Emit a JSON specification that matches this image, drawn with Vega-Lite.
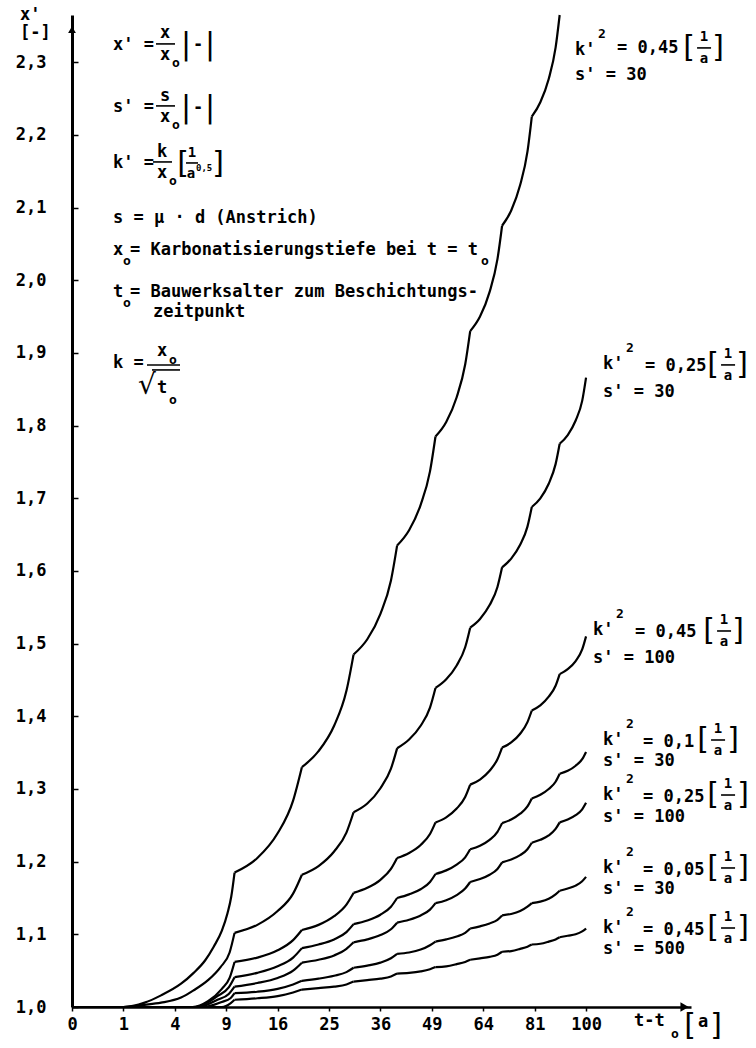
{
  "$schema": "https://vega.github.io/schema/vega-lite/v6.json",
  "width": 619,
  "height": 992,
  "autosize": {"type": "none"},
  "padding": {"left": 72, "top": 15, "right": 65, "bottom": 41},
  "background": "white",
  "config": {"view": {"stroke": null}, "font": "DejaVu Sans Mono"},
  "datasets": {
    "curves": [
      {"c":"A","s":0,"t":0,"v":1},{"c":"A","s":0,"t":1,"v":1},{"c":"A","s":0,"t":2,"v":1.006},{"c":"A","s":0,"t":3,"v":1.016},{"c":"A","s":0,"t":4.5,"v":1.032},{"c":"A","s":0,"t":5.6,"v":1.047},{"c":"A","s":0,"t":6.7,"v":1.064},{"c":"A","s":0,"t":7.6,"v":1.083},{"c":"A","s":0,"t":8.5,"v":1.105},{"c":"A","s":0,"t":9.15,"v":1.129},{"c":"A","s":0,"t":9.6,"v":1.152},{"c":"A","s":0,"t":10,"v":1.185},
      {"c":"A","s":1,"t":10,"v":1.185},{"c":"A","s":1,"t":13,"v":1.205},{"c":"A","s":1,"t":16,"v":1.239},{"c":"A","s":1,"t":18.5,"v":1.284},{"c":"A","s":1,"t":20,"v":1.33},
      {"c":"A","s":2,"t":20,"v":1.33},{"c":"A","s":2,"t":23,"v":1.352},{"c":"A","s":2,"t":26,"v":1.387},{"c":"A","s":2,"t":28.5,"v":1.435},{"c":"A","s":2,"t":30,"v":1.485},
      {"c":"A","s":3,"t":30,"v":1.485},{"c":"A","s":3,"t":33,"v":1.506},{"c":"A","s":3,"t":36,"v":1.541},{"c":"A","s":3,"t":38.5,"v":1.587},{"c":"A","s":3,"t":40,"v":1.635},
      {"c":"A","s":4,"t":40,"v":1.635},{"c":"A","s":4,"t":43,"v":1.656},{"c":"A","s":4,"t":46,"v":1.691},{"c":"A","s":4,"t":48.5,"v":1.737},{"c":"A","s":4,"t":50,"v":1.785},
      {"c":"A","s":5,"t":50,"v":1.785},{"c":"A","s":5,"t":53,"v":1.805},{"c":"A","s":5,"t":56,"v":1.839},{"c":"A","s":5,"t":58.5,"v":1.884},{"c":"A","s":5,"t":60,"v":1.93},
      {"c":"A","s":6,"t":60,"v":1.93},{"c":"A","s":6,"t":63,"v":1.95},{"c":"A","s":6,"t":66,"v":1.984},{"c":"A","s":6,"t":68.5,"v":2.029},{"c":"A","s":6,"t":70,"v":2.075},
      {"c":"A","s":7,"t":70,"v":2.075},{"c":"A","s":7,"t":73,"v":2.096},{"c":"A","s":7,"t":76,"v":2.131},{"c":"A","s":7,"t":78.5,"v":2.177},{"c":"A","s":7,"t":80,"v":2.225},
      {"c":"A","s":8,"t":80,"v":2.225},{"c":"A","s":8,"t":83,"v":2.245},{"c":"A","s":8,"t":86,"v":2.277},{"c":"A","s":8,"t":88.5,"v":2.32},{"c":"A","s":8,"t":90,"v":2.365},

      {"c":"B","s":0,"t":0,"v":1},{"c":"B","s":0,"t":1,"v":1},{"c":"B","s":0,"t":2,"v":1.003},{"c":"B","s":0,"t":3,"v":1.006},{"c":"B","s":0,"t":4.5,"v":1.013},{"c":"B","s":0,"t":5.6,"v":1.023},{"c":"B","s":0,"t":7,"v":1.037},{"c":"B","s":0,"t":8.35,"v":1.055},{"c":"B","s":0,"t":9.4,"v":1.075},{"c":"B","s":0,"t":10,"v":1.102},
      {"c":"B","s":1,"t":10,"v":1.102},{"c":"B","s":1,"t":13,"v":1.113},{"c":"B","s":1,"t":16,"v":1.132},{"c":"B","s":1,"t":18.5,"v":1.156},{"c":"B","s":1,"t":20,"v":1.182},
      {"c":"B","s":2,"t":20,"v":1.182},{"c":"B","s":2,"t":23,"v":1.194},{"c":"B","s":2,"t":26,"v":1.214},{"c":"B","s":2,"t":28.5,"v":1.24},{"c":"B","s":2,"t":30,"v":1.268},
      {"c":"B","s":3,"t":30,"v":1.268},{"c":"B","s":3,"t":33,"v":1.28},{"c":"B","s":3,"t":36,"v":1.301},{"c":"B","s":3,"t":38.5,"v":1.328},{"c":"B","s":3,"t":40,"v":1.356},
      {"c":"B","s":4,"t":40,"v":1.356},{"c":"B","s":4,"t":43,"v":1.368},{"c":"B","s":4,"t":46,"v":1.387},{"c":"B","s":4,"t":48.5,"v":1.412},{"c":"B","s":4,"t":50,"v":1.439},
      {"c":"B","s":5,"t":50,"v":1.439},{"c":"B","s":5,"t":53,"v":1.451},{"c":"B","s":5,"t":56,"v":1.47},{"c":"B","s":5,"t":58.5,"v":1.495},{"c":"B","s":5,"t":60,"v":1.522},
      {"c":"B","s":6,"t":60,"v":1.522},{"c":"B","s":6,"t":63,"v":1.534},{"c":"B","s":6,"t":66,"v":1.553},{"c":"B","s":6,"t":68.5,"v":1.578},{"c":"B","s":6,"t":70,"v":1.605},
      {"c":"B","s":7,"t":70,"v":1.605},{"c":"B","s":7,"t":73,"v":1.617},{"c":"B","s":7,"t":76,"v":1.636},{"c":"B","s":7,"t":78.5,"v":1.661},{"c":"B","s":7,"t":80,"v":1.688},
      {"c":"B","s":8,"t":80,"v":1.688},{"c":"B","s":8,"t":83,"v":1.7},{"c":"B","s":8,"t":86,"v":1.72},{"c":"B","s":8,"t":88.5,"v":1.747},{"c":"B","s":8,"t":90,"v":1.775},
      {"c":"B","s":9,"t":90,"v":1.775},{"c":"B","s":9,"t":93,"v":1.787},{"c":"B","s":9,"t":96,"v":1.807},{"c":"B","s":9,"t":98.5,"v":1.834},{"c":"B","s":9,"t":100,"v":1.866},

      {"c":"C","s":0,"t":0,"v":1},{"c":"C","s":0,"t":5.5,"v":1},{"c":"C","s":0,"t":7,"v":1.008},{"c":"C","s":0,"t":8.5,"v":1.025},{"c":"C","s":0,"t":9.4,"v":1.04},{"c":"C","s":0,"t":10,"v":1.062},
      {"c":"C","s":1,"t":10,"v":1.062},{"c":"C","s":1,"t":13,"v":1.068},{"c":"C","s":1,"t":16,"v":1.078},{"c":"C","s":1,"t":18.5,"v":1.092},{"c":"C","s":1,"t":20,"v":1.106},
      {"c":"C","s":2,"t":20,"v":1.106},{"c":"C","s":2,"t":23,"v":1.113},{"c":"C","s":2,"t":26,"v":1.125},{"c":"C","s":2,"t":28.5,"v":1.141},{"c":"C","s":2,"t":30,"v":1.157},
      {"c":"C","s":3,"t":30,"v":1.157},{"c":"C","s":3,"t":33,"v":1.164},{"c":"C","s":3,"t":36,"v":1.175},{"c":"C","s":3,"t":38.5,"v":1.19},{"c":"C","s":3,"t":40,"v":1.205},
      {"c":"C","s":4,"t":40,"v":1.205},{"c":"C","s":4,"t":43,"v":1.212},{"c":"C","s":4,"t":46,"v":1.223},{"c":"C","s":4,"t":48.5,"v":1.238},{"c":"C","s":4,"t":50,"v":1.254},
      {"c":"C","s":5,"t":50,"v":1.254},{"c":"C","s":5,"t":53,"v":1.261},{"c":"C","s":5,"t":56,"v":1.273},{"c":"C","s":5,"t":58.5,"v":1.289},{"c":"C","s":5,"t":60,"v":1.306},
      {"c":"C","s":6,"t":60,"v":1.306},{"c":"C","s":6,"t":63,"v":1.313},{"c":"C","s":6,"t":66,"v":1.325},{"c":"C","s":6,"t":68.5,"v":1.341},{"c":"C","s":6,"t":70,"v":1.357},
      {"c":"C","s":7,"t":70,"v":1.357},{"c":"C","s":7,"t":73,"v":1.364},{"c":"C","s":7,"t":76,"v":1.376},{"c":"C","s":7,"t":78.5,"v":1.392},{"c":"C","s":7,"t":80,"v":1.408},
      {"c":"C","s":8,"t":80,"v":1.408},{"c":"C","s":8,"t":83,"v":1.415},{"c":"C","s":8,"t":86,"v":1.427},{"c":"C","s":8,"t":88.5,"v":1.442},{"c":"C","s":8,"t":90,"v":1.458},
      {"c":"C","s":9,"t":90,"v":1.458},{"c":"C","s":9,"t":93,"v":1.465},{"c":"C","s":9,"t":96,"v":1.476},{"c":"C","s":9,"t":98.5,"v":1.492},{"c":"C","s":9,"t":100,"v":1.51},

      {"c":"D","s":0,"t":0,"v":1},{"c":"D","s":0,"t":5.8,"v":1},{"c":"D","s":0,"t":8,"v":1.015},{"c":"D","s":0,"t":9.3,"v":1.027},{"c":"D","s":0,"t":10,"v":1.041},
      {"c":"D","s":1,"t":10,"v":1.041},{"c":"D","s":1,"t":13,"v":1.047},{"c":"D","s":1,"t":16,"v":1.056},{"c":"D","s":1,"t":18.5,"v":1.068},{"c":"D","s":1,"t":20,"v":1.081},
      {"c":"D","s":2,"t":20,"v":1.081},{"c":"D","s":2,"t":23,"v":1.086},{"c":"D","s":2,"t":26,"v":1.093},{"c":"D","s":2,"t":28.5,"v":1.103},{"c":"D","s":2,"t":30,"v":1.114},
      {"c":"D","s":3,"t":30,"v":1.114},{"c":"D","s":3,"t":33,"v":1.119},{"c":"D","s":3,"t":36,"v":1.127},{"c":"D","s":3,"t":38.5,"v":1.138},{"c":"D","s":3,"t":40,"v":1.15},
      {"c":"D","s":4,"t":40,"v":1.15},{"c":"D","s":4,"t":43,"v":1.155},{"c":"D","s":4,"t":46,"v":1.162},{"c":"D","s":4,"t":48.5,"v":1.172},{"c":"D","s":4,"t":50,"v":1.183},
      {"c":"D","s":5,"t":50,"v":1.183},{"c":"D","s":5,"t":53,"v":1.188},{"c":"D","s":5,"t":56,"v":1.196},{"c":"D","s":5,"t":58.5,"v":1.206},{"c":"D","s":5,"t":60,"v":1.217},
      {"c":"D","s":6,"t":60,"v":1.217},{"c":"D","s":6,"t":63,"v":1.222},{"c":"D","s":6,"t":66,"v":1.23},{"c":"D","s":6,"t":68.5,"v":1.241},{"c":"D","s":6,"t":70,"v":1.253},
      {"c":"D","s":7,"t":70,"v":1.253},{"c":"D","s":7,"t":73,"v":1.258},{"c":"D","s":7,"t":76,"v":1.266},{"c":"D","s":7,"t":78.5,"v":1.276},{"c":"D","s":7,"t":80,"v":1.287},
      {"c":"D","s":8,"t":80,"v":1.287},{"c":"D","s":8,"t":83,"v":1.292},{"c":"D","s":8,"t":86,"v":1.3},{"c":"D","s":8,"t":88.5,"v":1.31},{"c":"D","s":8,"t":90,"v":1.321},
      {"c":"D","s":9,"t":90,"v":1.321},{"c":"D","s":9,"t":93,"v":1.325},{"c":"D","s":9,"t":96,"v":1.332},{"c":"D","s":9,"t":98.5,"v":1.341},{"c":"D","s":9,"t":100,"v":1.351},

      {"c":"E","s":0,"t":0,"v":1},{"c":"E","s":0,"t":6,"v":1},{"c":"E","s":0,"t":8,"v":1.01},{"c":"E","s":0,"t":9.3,"v":1.018},{"c":"E","s":0,"t":10,"v":1.028},
      {"c":"E","s":1,"t":10,"v":1.028},{"c":"E","s":1,"t":13,"v":1.033},{"c":"E","s":1,"t":16,"v":1.04},{"c":"E","s":1,"t":18.5,"v":1.05},{"c":"E","s":1,"t":20,"v":1.061},
      {"c":"E","s":2,"t":20,"v":1.061},{"c":"E","s":2,"t":23,"v":1.065},{"c":"E","s":2,"t":26,"v":1.071},{"c":"E","s":2,"t":28.5,"v":1.08},{"c":"E","s":2,"t":30,"v":1.089},
      {"c":"E","s":3,"t":30,"v":1.089},{"c":"E","s":3,"t":33,"v":1.093},{"c":"E","s":3,"t":36,"v":1.099},{"c":"E","s":3,"t":38.5,"v":1.107},{"c":"E","s":3,"t":40,"v":1.116},
      {"c":"E","s":4,"t":40,"v":1.116},{"c":"E","s":4,"t":43,"v":1.12},{"c":"E","s":4,"t":46,"v":1.126},{"c":"E","s":4,"t":48.5,"v":1.134},{"c":"E","s":4,"t":50,"v":1.143},
      {"c":"E","s":5,"t":50,"v":1.143},{"c":"E","s":5,"t":53,"v":1.147},{"c":"E","s":5,"t":56,"v":1.154},{"c":"E","s":5,"t":58.5,"v":1.163},{"c":"E","s":5,"t":60,"v":1.172},
      {"c":"E","s":6,"t":60,"v":1.172},{"c":"E","s":6,"t":63,"v":1.176},{"c":"E","s":6,"t":66,"v":1.182},{"c":"E","s":6,"t":68.5,"v":1.19},{"c":"E","s":6,"t":70,"v":1.199},
      {"c":"E","s":7,"t":70,"v":1.199},{"c":"E","s":7,"t":73,"v":1.203},{"c":"E","s":7,"t":76,"v":1.209},{"c":"E","s":7,"t":78.5,"v":1.217},{"c":"E","s":7,"t":80,"v":1.226},
      {"c":"E","s":8,"t":80,"v":1.226},{"c":"E","s":8,"t":83,"v":1.23},{"c":"E","s":8,"t":86,"v":1.236},{"c":"E","s":8,"t":88.5,"v":1.245},{"c":"E","s":8,"t":90,"v":1.254},
      {"c":"E","s":9,"t":90,"v":1.254},{"c":"E","s":9,"t":93,"v":1.258},{"c":"E","s":9,"t":96,"v":1.264},{"c":"E","s":9,"t":98.5,"v":1.272},{"c":"E","s":9,"t":100,"v":1.281},

      {"c":"F","s":0,"t":0,"v":1},{"c":"F","s":0,"t":6.5,"v":1},{"c":"F","s":0,"t":8.5,"v":1.007},{"c":"F","s":0,"t":9.5,"v":1.012},{"c":"F","s":0,"t":10,"v":1.019},
      {"c":"F","s":1,"t":10,"v":1.019},{"c":"F","s":1,"t":13,"v":1.021},{"c":"F","s":1,"t":16,"v":1.025},{"c":"F","s":1,"t":18.5,"v":1.031},{"c":"F","s":1,"t":20,"v":1.036},
      {"c":"F","s":2,"t":20,"v":1.036},{"c":"F","s":2,"t":23,"v":1.039},{"c":"F","s":2,"t":26,"v":1.043},{"c":"F","s":2,"t":28.5,"v":1.048},{"c":"F","s":2,"t":30,"v":1.054},
      {"c":"F","s":3,"t":30,"v":1.054},{"c":"F","s":3,"t":33,"v":1.057},{"c":"F","s":3,"t":36,"v":1.061},{"c":"F","s":3,"t":38.5,"v":1.067},{"c":"F","s":3,"t":40,"v":1.073},
      {"c":"F","s":4,"t":40,"v":1.073},{"c":"F","s":4,"t":43,"v":1.075},{"c":"F","s":4,"t":46,"v":1.079},{"c":"F","s":4,"t":48.5,"v":1.085},{"c":"F","s":4,"t":50,"v":1.09},
      {"c":"F","s":5,"t":50,"v":1.09},{"c":"F","s":5,"t":53,"v":1.093},{"c":"F","s":5,"t":56,"v":1.097},{"c":"F","s":5,"t":58.5,"v":1.102},{"c":"F","s":5,"t":60,"v":1.108},
      {"c":"F","s":6,"t":60,"v":1.108},{"c":"F","s":6,"t":63,"v":1.111},{"c":"F","s":6,"t":66,"v":1.115},{"c":"F","s":6,"t":68.5,"v":1.12},{"c":"F","s":6,"t":70,"v":1.126},
      {"c":"F","s":7,"t":70,"v":1.126},{"c":"F","s":7,"t":73,"v":1.128},{"c":"F","s":7,"t":76,"v":1.132},{"c":"F","s":7,"t":78.5,"v":1.138},{"c":"F","s":7,"t":80,"v":1.143},
      {"c":"F","s":8,"t":80,"v":1.143},{"c":"F","s":8,"t":83,"v":1.145},{"c":"F","s":8,"t":86,"v":1.149},{"c":"F","s":8,"t":88.5,"v":1.155},{"c":"F","s":8,"t":90,"v":1.16},
      {"c":"F","s":9,"t":90,"v":1.16},{"c":"F","s":9,"t":93,"v":1.163},{"c":"F","s":9,"t":96,"v":1.167},{"c":"F","s":9,"t":98.5,"v":1.173},{"c":"F","s":9,"t":100,"v":1.179},

      {"c":"G","s":0,"t":0,"v":1},{"c":"G","s":0,"t":8.5,"v":1},{"c":"G","s":0,"t":9.5,"v":1.005},{"c":"G","s":0,"t":10,"v":1.01},
      {"c":"G","s":1,"t":10,"v":1.01},{"c":"G","s":1,"t":13,"v":1.012},{"c":"G","s":1,"t":16,"v":1.015},{"c":"G","s":1,"t":18.5,"v":1.02},{"c":"G","s":1,"t":20,"v":1.024},
      {"c":"G","s":2,"t":20,"v":1.024},{"c":"G","s":2,"t":23,"v":1.026},{"c":"G","s":2,"t":26,"v":1.028},{"c":"G","s":2,"t":28.5,"v":1.031},{"c":"G","s":2,"t":30,"v":1.035},
      {"c":"G","s":3,"t":30,"v":1.035},{"c":"G","s":3,"t":33,"v":1.037},{"c":"G","s":3,"t":36,"v":1.039},{"c":"G","s":3,"t":38.5,"v":1.042},{"c":"G","s":3,"t":40,"v":1.046},
      {"c":"G","s":4,"t":40,"v":1.046},{"c":"G","s":4,"t":43,"v":1.047},{"c":"G","s":4,"t":46,"v":1.049},{"c":"G","s":4,"t":48.5,"v":1.052},{"c":"G","s":4,"t":50,"v":1.055},
      {"c":"G","s":5,"t":50,"v":1.055},{"c":"G","s":5,"t":53,"v":1.056},{"c":"G","s":5,"t":56,"v":1.059},{"c":"G","s":5,"t":58.5,"v":1.062},{"c":"G","s":5,"t":60,"v":1.065},
      {"c":"G","s":6,"t":60,"v":1.065},{"c":"G","s":6,"t":63,"v":1.067},{"c":"G","s":6,"t":66,"v":1.069},{"c":"G","s":6,"t":68.5,"v":1.072},{"c":"G","s":6,"t":70,"v":1.076},
      {"c":"G","s":7,"t":70,"v":1.076},{"c":"G","s":7,"t":73,"v":1.077},{"c":"G","s":7,"t":76,"v":1.08},{"c":"G","s":7,"t":78.5,"v":1.083},{"c":"G","s":7,"t":80,"v":1.086},
      {"c":"G","s":8,"t":80,"v":1.086},{"c":"G","s":8,"t":83,"v":1.087},{"c":"G","s":8,"t":86,"v":1.09},{"c":"G","s":8,"t":88.5,"v":1.093},{"c":"G","s":8,"t":90,"v":1.096},
      {"c":"G","s":9,"t":90,"v":1.096},{"c":"G","s":9,"t":93,"v":1.098},{"c":"G","s":9,"t":96,"v":1.1},{"c":"G","s":9,"t":98.5,"v":1.104},{"c":"G","s":9,"t":100,"v":1.108}
    ],
    "labels": [
      {"kind":"main","t":-1.0235,"v":2.3651,"text":"x'"},
      {"kind":"main","t":-1.0235,"v":2.3403,"text":"[-]"},

      {"kind":"main","t":0.6363,"v":2.3238,"text":"x' ="},
      {"kind":"cmain","t":3.2737,"v":2.3403,"text":"x"},
      {"kind":"cmain","t":3.2737,"v":2.31,"text":"x"},
      {"kind":"sub","t":3.785,"v":2.299,"text":"o"},
      {"kind":"big","t":4.919,"v":2.3238,"text":"|"},
      {"kind":"cmain","t":6.009,"v":2.3238,"text":"-"},
      {"kind":"big","t":7.208,"v":2.3238,"text":"|"},

      {"kind":"main","t":0.6363,"v":2.2385,"text":"s' ="},
      {"kind":"cmain","t":3.2737,"v":2.2536,"text":"s"},
      {"kind":"cmain","t":3.2737,"v":2.2247,"text":"x"},
      {"kind":"sub","t":3.785,"v":2.2137,"text":"o"},
      {"kind":"big","t":4.919,"v":2.2371,"text":"|"},
      {"kind":"cmain","t":6.009,"v":2.2371,"text":"-"},
      {"kind":"big","t":7.208,"v":2.2371,"text":"|"},

      {"kind":"main","t":0.6363,"v":2.1614,"text":"k' ="},
      {"kind":"cmain","t":3.0659,"v":2.1766,"text":"k"},
      {"kind":"cmain","t":3.0659,"v":2.1476,"text":"x"},
      {"kind":"sub","t":3.5614,"v":2.1366,"text":"o"},
      {"kind":"big","t":4.663,"v":2.16,"text":"["},
      {"kind":"frac","t":5.45,"v":2.1752,"text":"1"},
      {"kind":"frac","t":5.36,"v":2.1462,"text":"a"},
      {"kind":"tiny","t":5.82,"v":2.1545,"text":"0,5"},
      {"kind":"big","t":8.068,"v":2.16,"text":"]"},

      {"kind":"main","t":0.6363,"v":2.0857,"text":"s = μ · d (Anstrich)"},
      {"kind":"main","t":0.6363,"v":2.0417,"text":"x"},
      {"kind":"sub","t":0.9845,"v":2.0266,"text":"o"},
      {"kind":"main","t":1.2733,"v":2.0417,"text":"= Karbonatisierungstiefe bei t = t"},
      {"kind":"sub","t":63.32,"v":2.0266,"text":"o"},
      {"kind":"main","t":0.6363,"v":1.9839,"text":"t"},
      {"kind":"sub","t":0.9845,"v":1.9688,"text":"o"},
      {"kind":"main","t":1.2733,"v":1.9839,"text":"= Bauwerksalter zum Beschichtungs-"},
      {"kind":"main","t":2.4834,"v":1.9564,"text":"zeitpunkt"},

      {"kind":"main","t":0.6363,"v":1.8862,"text":"k ="},
      {"kind":"cmain","t":3.0659,"v":1.9027,"text":"x"},
      {"kind":"sub","t":3.5614,"v":1.8903,"text":"o"},
      {"kind":"root","t":1.6488,"v":1.8546,"text":"√"},
      {"kind":"cmain","t":3.0659,"v":1.8518,"text":"t"},
      {"kind":"sub","t":3.5614,"v":1.8353,"text":"o"},

      {"kind":"main","t":95.77,"v":2.3169,"text":"k'"},
      {"kind":"sup","t":104.72,"v":2.339,"text":"2"},
      {"kind":"main","t":112.43,"v":2.3197,"text":"= 0,45"},
      {"kind":"big","t":144.09,"v":2.3197,"text":"["},
      {"kind":"frac","t":151.18,"v":2.3348,"text":"1"},
      {"kind":"frac","t":151.18,"v":2.3045,"text":"a"},
      {"kind":"big","t":157.95,"v":2.3197,"text":"]"},
      {"kind":"main","t":95.77,"v":2.2825,"text":"s' = 30"},

      {"kind":"main","t":106.72,"v":1.8848,"text":"k'"},
      {"kind":"sup","t":116.17,"v":1.9068,"text":"2"},
      {"kind":"main","t":124.28,"v":1.8821,"text":"= 0,25"},
      {"kind":"big","t":155.52,"v":1.8835,"text":"["},
      {"kind":"frac","t":162.89,"v":1.8986,"text":"1"},
      {"kind":"frac","t":162.89,"v":1.8683,"text":"a"},
      {"kind":"big","t":169.91,"v":1.8835,"text":"]"},
      {"kind":"main","t":106.72,"v":1.8463,"text":"s' = 30"},

      {"kind":"main","t":102.74,"v":1.5188,"text":"k'"},
      {"kind":"sup","t":112.01,"v":1.5408,"text":"2"},
      {"kind":"main","t":119.98,"v":1.516,"text":"= 0,45"},
      {"kind":"big","t":153.58,"v":1.5174,"text":"["},
      {"kind":"frac","t":160.9,"v":1.5325,"text":"1"},
      {"kind":"frac","t":160.9,"v":1.5023,"text":"a"},
      {"kind":"big","t":167.89,"v":1.5174,"text":"]"},
      {"kind":"main","t":102.74,"v":1.4803,"text":"s' = 100"},

      {"kind":"main","t":106.72,"v":1.3674,"text":"k'"},
      {"kind":"sup","t":116.17,"v":1.3894,"text":"2"},
      {"kind":"main","t":123.41,"v":1.3647,"text":"= 0,1"},
      {"kind":"big","t":150.71,"v":1.3674,"text":"["},
      {"kind":"frac","t":157.95,"v":1.3826,"text":"1"},
      {"kind":"frac","t":157.95,"v":1.3523,"text":"a"},
      {"kind":"big","t":165.38,"v":1.3674,"text":"]"},
      {"kind":"main","t":106.72,"v":1.3385,"text":"s' = 30"},

      {"kind":"main","t":106.72,"v":1.2917,"text":"k'"},
      {"kind":"sup","t":116.17,"v":1.3137,"text":"2"},
      {"kind":"main","t":123.41,"v":1.289,"text":"= 0,25"},
      {"kind":"big","t":155.52,"v":1.2917,"text":"["},
      {"kind":"frac","t":162.89,"v":1.3069,"text":"1"},
      {"kind":"frac","t":162.89,"v":1.2766,"text":"a"},
      {"kind":"big","t":170.41,"v":1.2917,"text":"]"},
      {"kind":"main","t":106.72,"v":1.2615,"text":"s' = 100"},

      {"kind":"main","t":106.72,"v":1.1913,"text":"k'"},
      {"kind":"sup","t":116.17,"v":1.2133,"text":"2"},
      {"kind":"main","t":123.41,"v":1.1885,"text":"= 0,05"},
      {"kind":"big","t":155.52,"v":1.1913,"text":"["},
      {"kind":"frac","t":162.89,"v":1.2064,"text":"1"},
      {"kind":"frac","t":162.89,"v":1.1761,"text":"a"},
      {"kind":"big","t":170.41,"v":1.1913,"text":"]"},
      {"kind":"main","t":106.72,"v":1.1624,"text":"s' = 30"},

      {"kind":"main","t":106.72,"v":1.1087,"text":"k'"},
      {"kind":"sup","t":116.17,"v":1.1307,"text":"2"},
      {"kind":"main","t":123.41,"v":1.106,"text":"= 0,45"},
      {"kind":"big","t":155.52,"v":1.1087,"text":"["},
      {"kind":"frac","t":162.89,"v":1.1238,"text":"1"},
      {"kind":"frac","t":162.89,"v":1.0936,"text":"a"},
      {"kind":"big","t":170.41,"v":1.1087,"text":"]"},
      {"kind":"main","t":106.72,"v":1.0798,"text":"s' = 500"},

      {"kind":"main","t":119.55,"v":0.9807,"text":"t-t"},
      {"kind":"sub","t":135.81,"v":0.9628,"text":"o"},
      {"kind":"big","t":144.56,"v":0.9739,"text":"["},
      {"kind":"cmain","t":150.71,"v":0.9794,"text":"a"},
      {"kind":"big","t":156.98,"v":0.9739,"text":"]"}
    ],
    "bars": [
      {"t":2.6708,"t2":4.0156,"v":2.3252},
      {"t":2.6708,"t2":4.0156,"v":2.2399},
      {"t":2.4834,"t2":3.785,"v":2.1628},
      {"t":4.919,"t2":6.009,"v":2.1614},
      {"t":2.129,"t2":4.415,"v":1.8835},
      {"t":2.4224,"t2":4.415,"v":1.8766},
      {"t":147.86,"t2":154.55,"v":2.3197},
      {"t":159.42,"t2":166.38,"v":1.8835},
      {"t":157.47,"t2":164.38,"v":1.5174},
      {"t":154.55,"t2":161.4,"v":1.3674},
      {"t":159.42,"t2":166.38,"v":1.2917},
      {"t":159.42,"t2":166.38,"v":1.1913},
      {"t":159.42,"t2":166.38,"v":1.1087}
    ]
  },
  "encoding": {
    "x": {
      "field": "t", "type": "quantitative",
      "scale": {"type": "sqrt", "domain": [0, 145], "nice": false, "zero": false},
      "axis": {
        "values": [0, 1, 4, 9, 16, 25, 36, 49, 64, 81, 100],
        "title": null, "grid": false,
        "domainColor": "black", "domainWidth": 2.5,
        "tickColor": "black", "tickSize": 4, "tickWidth": 1.5,
        "labelFont": "DejaVu Sans Mono", "labelFontSize": 17, "labelFontWeight": "bold",
        "labelColor": "black", "labelPadding": 5, "labelFlush": false, "labelOverlap": false
      }
    },
    "y": {
      "field": "v", "type": "quantitative",
      "scale": {"domain": [1, 2.365], "nice": false, "zero": false},
      "axis": {
        "values": [1, 1.1, 1.2, 1.3, 1.4, 1.5, 1.6, 1.7, 1.8, 1.9, 2, 2.1, 2.2, 2.3],
        "labelExpr": "replace(format(datum.value, '.1f'), '.', ',')",
        "title": null, "grid": false,
        "domainColor": "black", "domainWidth": 3,
        "tickColor": "black", "tickSize": -6, "tickWidth": 1.5,
        "labelFont": "DejaVu Sans Mono", "labelFontSize": 17, "labelFontWeight": "bold",
        "labelColor": "black", "labelPadding": 32, "labelFlush": false, "labelOverlap": false
      }
    }
  },
  "layer": [
    {
      "data": {"name": "curves"},
      "mark": {"type": "line", "color": "black", "strokeWidth": 2.2, "interpolate": "monotone"},
      "encoding": {"detail": [{"field": "c"}, {"field": "s"}]}
    },
    {
      "data": {"name": "bars"},
      "mark": {"type": "rule", "color": "black", "strokeWidth": 1.6},
      "encoding": {"x2": {"field": "t2"}}
    },
    {
      "data": {"name": "labels"},
      "transform": [{"filter": "datum.kind == 'main'"}],
      "mark": {"type": "text", "align": "left", "baseline": "middle", "font": "DejaVu Sans Mono", "fontSize": 17, "fontWeight": "bold", "color": "black"},
      "encoding": {"text": {"field": "text"}}
    },
    {
      "data": {"name": "labels"},
      "transform": [{"filter": "datum.kind == 'cmain'"}],
      "mark": {"type": "text", "align": "center", "baseline": "middle", "font": "DejaVu Sans Mono", "fontSize": 17, "fontWeight": "bold", "color": "black"},
      "encoding": {"text": {"field": "text"}}
    },
    {
      "data": {"name": "labels"},
      "transform": [{"filter": "datum.kind == 'sub' || datum.kind == 'sup'"}],
      "mark": {"type": "text", "align": "left", "baseline": "middle", "font": "DejaVu Sans Mono", "fontSize": 13, "fontWeight": "bold", "color": "black"},
      "encoding": {"text": {"field": "text"}}
    },
    {
      "data": {"name": "labels"},
      "transform": [{"filter": "datum.kind == 'frac'"}],
      "mark": {"type": "text", "align": "center", "baseline": "middle", "font": "DejaVu Sans Mono", "fontSize": 14, "fontWeight": "bold", "color": "black"},
      "encoding": {"text": {"field": "text"}}
    },
    {
      "data": {"name": "labels"},
      "transform": [{"filter": "datum.kind == 'tiny'"}],
      "mark": {"type": "text", "align": "left", "baseline": "middle", "font": "DejaVu Sans Mono", "fontSize": 9, "fontWeight": "bold", "color": "black"},
      "encoding": {"text": {"field": "text"}}
    },
    {
      "data": {"name": "labels"},
      "transform": [{"filter": "datum.kind == 'big'"}],
      "mark": {"type": "text", "align": "center", "baseline": "middle", "font": "DejaVu Sans", "fontSize": 30, "fontWeight": "normal", "color": "black"},
      "encoding": {"text": {"field": "text"}}
    },
    {
      "data": {"name": "labels"},
      "transform": [{"filter": "datum.kind == 'root'"}],
      "mark": {"type": "text", "align": "left", "baseline": "middle", "font": "DejaVu Sans", "fontSize": 28, "fontWeight": "normal", "color": "black"},
      "encoding": {"text": {"field": "text"}}
    },
    {
      "data": {"values": [{"t": 0, "v": 2.345}]},
      "mark": {"type": "point", "shape": "triangle-up", "filled": true, "color": "black", "size": 60, "opacity": 1}
    },
    {
      "data": {"values": [{"t": 142, "v": 1}]},
      "mark": {"type": "point", "shape": "triangle-right", "filled": true, "color": "black", "size": 90, "opacity": 1}
    }
  ]
}
